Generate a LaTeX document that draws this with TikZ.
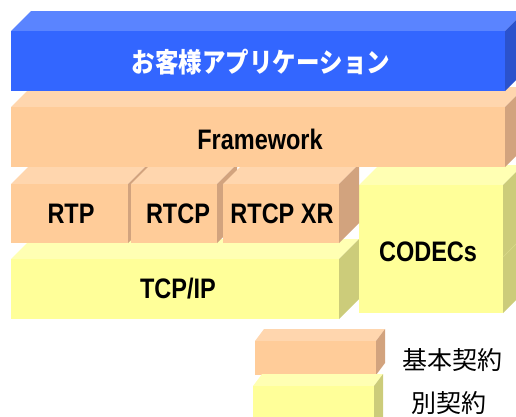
\documentclass[tikz,border=0pt]{standalone}
\usepackage{fontspec}
\setmainfont{Liberation Sans}
\newfontfamily\jp{Noto Sans CJK JP}
\definecolor{blueF}{HTML}{3366FF}
\definecolor{blueT}{HTML}{5A84FF}
\definecolor{blueS}{HTML}{2B52CC}
\definecolor{orgF}{HTML}{FFCC99}
\definecolor{orgT}{HTML}{FFD6AE}
\definecolor{orgS}{HTML}{D2A37E}
\definecolor{yelF}{HTML}{FFFF99}
\definecolor{yelT}{HTML}{FFFFB3}
\definecolor{yelS}{HTML}{CCCC7A}
\definecolor{seam}{HTML}{DADA8A}
\newcommand\cubebox[7]{%
  \fill[#7T] (#1,#2) -- (#1+#5,#2-#6) -- (#3+#5,#2-#6) -- (#3,#2) -- cycle;
  \fill[#7S] (#3,#2) -- (#3+#5,#2-#6) -- (#3+#5,#4-#6) -- (#3,#4) -- cycle;
  \fill[#7F] (#1,#2) rectangle (#3,#4);
}
\tikzset{
  lbl/.style={font=\bfseries\fontsize{23.5}{23.5}\selectfont, inner sep=0pt},
  jlbl/.style={font=\jp\bfseries\fontsize{23.5}{23.5}\selectfont, text=white, inner sep=0pt},
  leg/.style={font=\jp\fontsize{25}{25}\selectfont, inner sep=0pt}
}
\begin{document}
\begin{tikzpicture}[x=1pt,y=-1pt]
\useasboundingbox (0,0) rectangle (516,416);
\clip (0,0) rectangle (516,416);
% bottom row
\cubebox{11}{259}{339}{319}{20}{20}{yel}
\cubebox{359}{185}{503}{313}{20}{20}{yel}
\draw[seam, line width=0.5pt] (503,257) -- (523,237);
% middle row
\cubebox{11}{184}{128}{243}{20}{20}{org}
\cubebox{131}{184}{217}{243}{20}{20}{org}
\cubebox{223}{184}{339}{243}{20}{20}{org}
% framework
\cubebox{11}{107}{505}{167}{20}{20}{org}
% application
\cubebox{11}{31}{505}{91}{20}{20}{blue}
% legend
\cubebox{255}{341}{376}{375}{9}{12}{org}
\cubebox{253}{386}{374}{430}{9}{12}{yel}

\node[jlbl] (app) at (261,62) {\scalebox{1}[1.15]{お客様アプリケーション}};
\node[lbl] (fw) at (260,139) {\scalebox{1}[1.2]{Framework}};
\node[lbl] (rtp) at (71,214) {\scalebox{1}[1.2]{RTP}};
\node[lbl] (rtcp) at (178,214) {\scalebox{1}[1.2]{RTCP}};
\node[lbl] (rtcpxr) at (282,214) {\scalebox{1}[1.2]{RTCP XR}};
\node[lbl] (tcp) at (178,289) {\scalebox{1}[1.2]{TCP/IP}};
\node[lbl] (codec) at (428,252) {\scalebox{1}[1.2]{CODECs}};
\node[leg] (l1) at (452,360) {基本契約};
\node[leg] (l2) at (449,403) {別契約};
\end{tikzpicture}
\end{document}
